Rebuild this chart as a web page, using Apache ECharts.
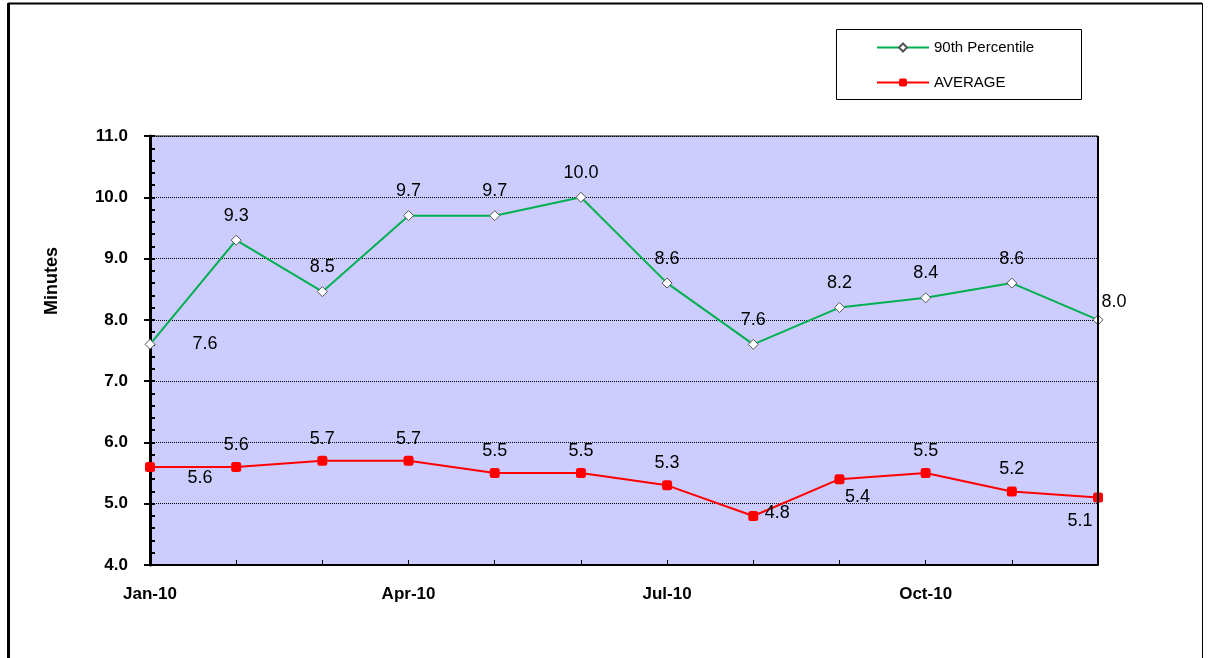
<!DOCTYPE html>
<html>
<head>
<meta charset="utf-8">
<script src="https://cdn.jsdelivr.net/npm/echarts@6/dist/echarts.min.js"></script>
<style>
  html, body { margin: 0; padding: 0; background: #fff; }
  #chart { width: 1208px; height: 658px; }
</style>
</head>
<body>
<div id="chart"></div>
<script>
// data
const months = ['Jan-10', 'Feb-10', 'Mar-10', 'Apr-10', 'May-10', 'Jun-10',
                'Jul-10', 'Aug-10', 'Sep-10', 'Oct-10', 'Nov-10', 'Dec-10']
const pct90 = [7.6, 9.3, 8.46, 9.7, 9.7, 10.0, 8.6, 7.6, 8.2, 8.36, 8.6, 8.0]
const average = [5.6, 5.6, 5.7, 5.7, 5.5, 5.5, 5.3, 4.8, 5.4, 5.5, 5.2, 5.1]

// labels that do not sit above their point: index -> offset from point centre
const pctLabelMove = { 0: [55, 0], 11: [16, -18] }
const avgLabelMove = { 0: [50, 11], 7: [24, -3], 8: [18, 18], 11: [-18, 23] }

const FONT = 'Arial, "Liberation Sans", sans-serif'

function withLabels(values, moves) {
    return values.map((v, i) => {
        if (!moves[i]) return v
        return {
            value: v,
            label: { position: 'inside', offset: moves[i] }
        }
    })
}

const chart = echarts.init(document.getElementById('chart'))

const option = {
    animation: false,
    backgroundColor: '#fff',
    grid: {
        left: 150,
        right: 110,
        top: 136,
        bottom: 93,
        show: true,
        backgroundColor: '#ccccff',
        borderColor: '#000',
        borderWidth: 1
    },
    legend: {
        orient: 'vertical',
        left: 876,
        top: 40,
        padding: 0,
        itemWidth: 52,
        itemHeight: 10,
        itemGap: 20,
        textStyle: { fontFamily: FONT, fontSize: 15, color: '#000' },
        data: ['90th Percentile', 'AVERAGE']
    },
    xAxis: {
        type: 'category',
        data: months,
        boundaryGap: false,
        axisLine: { lineStyle: { color: '#000', width: 2 } },
        axisTick: { show: true, inside: true, length: 5, interval: 0, lineStyle: { color: '#000' } },
        axisLabel: {
            interval: 2,
            margin: 21,
            color: '#000',
            fontFamily: FONT,
            fontSize: 17,
            fontWeight: 'bold'
        },
        splitLine: { show: false }
    },
    yAxis: [{
        type: 'value',
        min: 4,
        max: 11,
        interval: 1,
        axisLine: { show: true, lineStyle: { color: '#000', width: 3 } },
        axisTick: { show: true, length: 6, lineStyle: { color: '#000', width: 2 } },
        axisLabel: {
            margin: 22,
            color: '#000',
            fontFamily: FONT,
            fontSize: 17,
            fontWeight: 'bold',
            formatter: v => v.toFixed(1)
        },
        splitLine: { show: true, lineStyle: { color: '#000', type: 'dotted', width: 1 } }
    }, {
        // minor ticks pointing into the plot
        type: 'value',
        position: 'left',
        min: 4,
        max: 11,
        interval: 0.2,
        axisLine: { show: false },
        axisTick: { show: true, inside: true, length: 5, lineStyle: { color: '#000', width: 2 } },
        axisLabel: { show: false },
        splitLine: { show: false }
    }],
    graphic: [
        // outer frame
        { type: 'line', shape: { x1: 8.5, y1: 3, x2: 8.5, y2: 660 }, style: { stroke: '#000', lineWidth: 3 } },
        { type: 'line', shape: { x1: 8, y1: 3.5, x2: 1202, y2: 3.5 }, style: { stroke: '#000', lineWidth: 2 } },
        { type: 'line', shape: { x1: 1202.5, y1: 3, x2: 1202.5, y2: 660 }, style: { stroke: '#000', lineWidth: 1 } },
        // right edge of plot
        { type: 'line', shape: { x1: 1098, y1: 136, x2: 1098, y2: 565 }, style: { stroke: '#000', lineWidth: 2 }, z: 10 },
        // legend box
        { type: 'rect', shape: { x: 836.5, y: 29.5, width: 245, height: 70 }, style: { fill: '#fff', stroke: '#000', lineWidth: 1 }, z: -1 },
        // axis title
        {
            type: 'text',
            x: 52,
            y: 281,
            rotation: Math.PI / 2,
            style: {
                text: 'Minutes',
                fill: '#000',
                font: 'bold 18px ' + FONT,
                align: 'center',
                verticalAlign: 'middle'
            }
        }
    ],
    series: [{
        name: '90th Percentile',
        type: 'line',
        data: withLabels(pct90, pctLabelMove),
        symbol: 'diamond',
        symbolSize: 10,
        lineStyle: { color: '#00b050', width: 2 },
        itemStyle: { color: '#fff', borderColor: '#555', borderWidth: 1 },
        label: {
            show: true,
            position: 'top',
            distance: 10,
            color: '#000',
            fontFamily: FONT,
            fontSize: 18,
            formatter: p => p.value.toFixed(1)
        },
        z: 3
    }, {
        name: 'AVERAGE',
        type: 'line',
        data: withLabels(average, avgLabelMove),
        symbol: 'roundRect',
        symbolSize: 10,
        lineStyle: { color: '#ff0000', width: 2 },
        itemStyle: { color: '#ff0000' },
        label: {
            show: true,
            position: 'top',
            distance: 8,
            color: '#000',
            fontFamily: FONT,
            fontSize: 18,
            formatter: p => p.value.toFixed(1)
        },
        z: 3
    }]
}

chart.setOption(option)
</script>
</body>
</html>
